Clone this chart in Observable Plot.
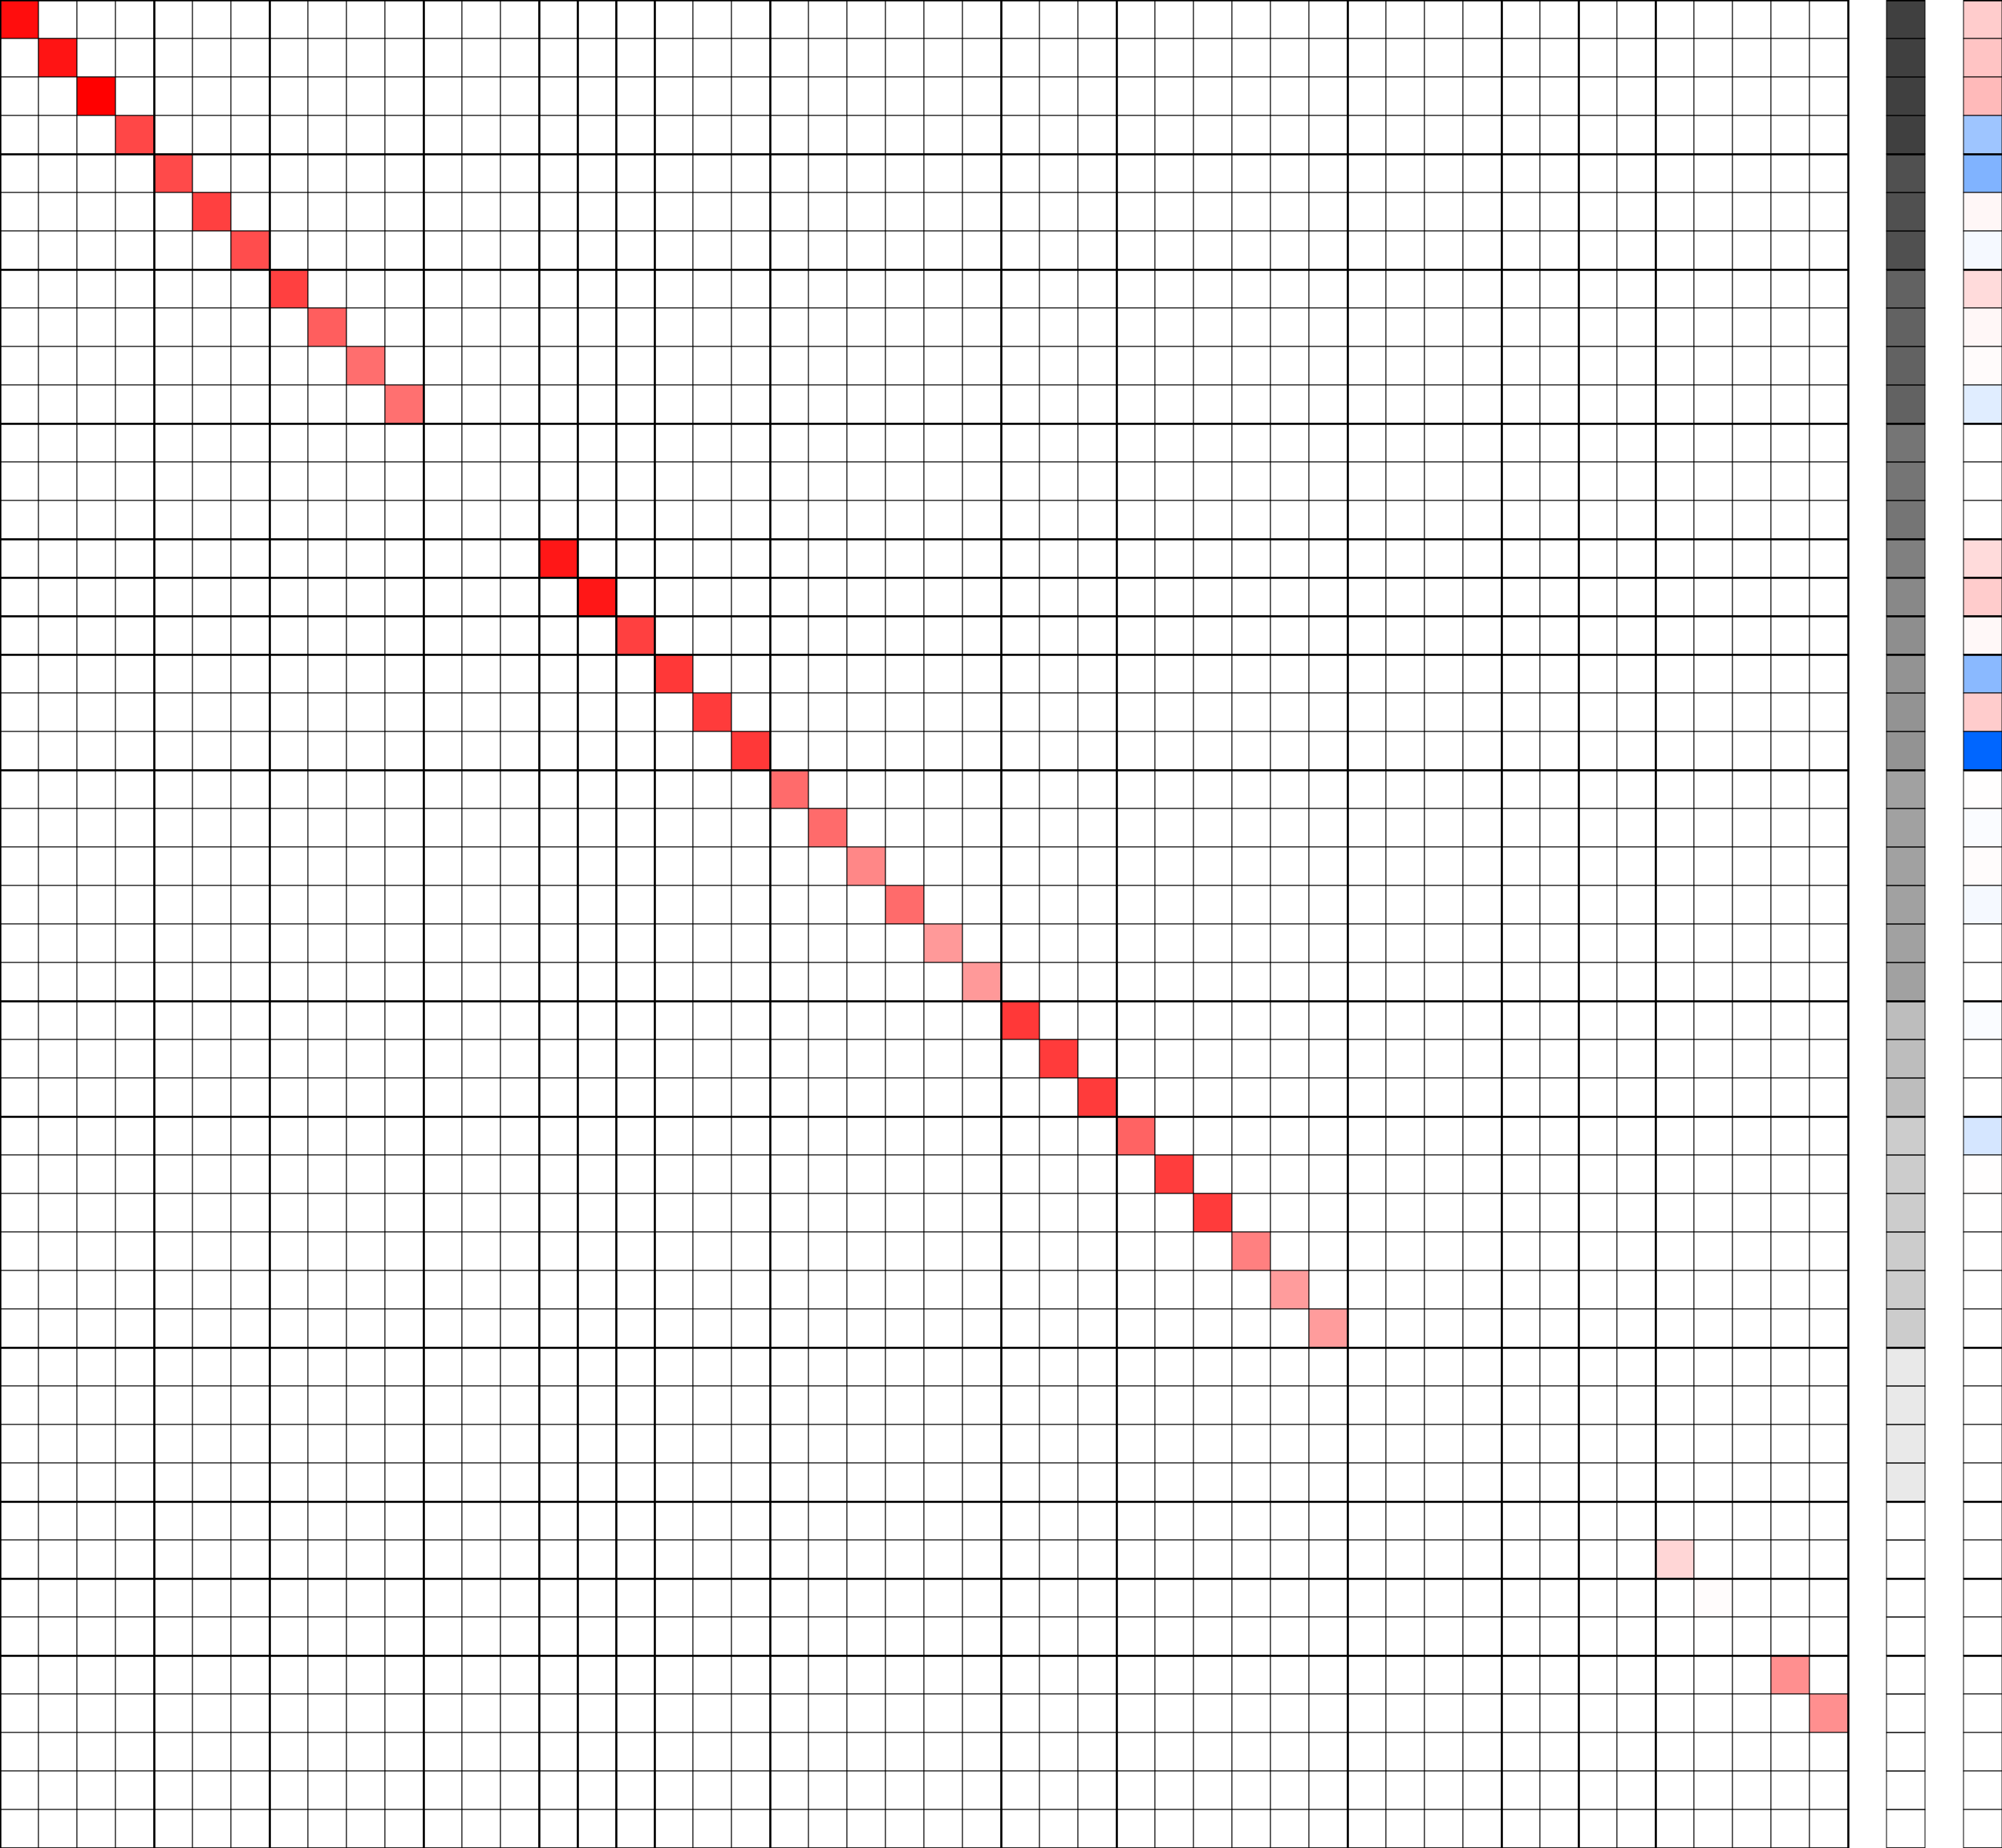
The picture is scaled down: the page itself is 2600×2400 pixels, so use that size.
<!DOCTYPE html>
<html>
<head>
<meta charset="utf-8">
<script src="https://cdn.jsdelivr.net/npm/d3@7"></script>
<script src="https://cdn.jsdelivr.net/npm/@observablehq/plot@0.6"></script>
<style>
  html, body { margin: 0; padding: 0; background: #ffffff; }
  #chart svg { display: block; }
</style>
</head>
<body>
<div id="chart"></div>
<script>
// ---- data ----
const n = 48;
// row/column groups (sizes, in order)
const groupSizes = [4, 3, 4, 3, 1, 1, 1, 3, 6, 3, 6, 4, 2, 2, 5];
// group shade (0 = white, 1 = black)
const groupShade = [0.75, 0.686, 0.616, 0.541, 0.498, 0.467, 0.443, 0.424, 0.369, 0.259, 0.2, 0.086, 0, 0, 0];
// non-zero matrix entries
const hitRows =   [0, 1, 2, 3, 4, 5, 6, 7, 8, 9, 10, 14, 15, 16, 17, 18, 19, 20, 21, 22, 23, 24, 25, 26, 27, 28, 29, 30, 31, 32, 33, 34, 40, 41, 43, 44];
const hitCols =   [0, 1, 2, 3, 4, 5, 6, 7, 8, 9, 10, 14, 15, 16, 17, 18, 19, 20, 21, 22, 23, 24, 25, 26, 27, 28, 29, 30, 31, 32, 33, 34, 43, 44, 46, 47];
const hitValues = [0.95, 0.92, 1.0, 0.72, 0.71, 0.75, 0.70, 0.75, 0.63, 0.57, 0.56, 0.91, 0.91, 0.75, 0.78, 0.77, 0.78, 0.58, 0.58, 0.47, 0.58, 0.40, 0.40, 0.78, 0.77, 0.77, 0.61, 0.76, 0.77, 0.50, 0.39, 0.39, 0.16, 0.01, 0.44, 0.44];
// side column (diverging values per row)
const sideValues = [0.20, 0.23, 0.27, -0.38, -0.50, 0.03, -0.04, 0.14, 0.03, 0.015, -0.12, 0, 0, 0, 0.14, 0.20,
                    0.027, -0.46, 0.20, -1.0, 0.005, -0.02, 0.01, -0.04, 0, 0, -0.02, 0, 0, -0.165, 0.005, 0,
                    0, 0, 0, 0, 0, 0, 0, 0, 0, 0, 0, 0, 0, 0, 0, 0];

// ---- build tables ----
const cells = [];
for (let r = 0; r < n; r++) for (let c = 0; c < n; c++) cells.push({r, c, v: 0});
hitRows.forEach((r, i) => { cells[r * n + hitCols[i]].v = hitValues[i]; });

const rowGroup = [];
groupSizes.forEach((s, g) => { for (let k = 0; k < s; k++) rowGroup.push(g); });
const grayCol = rowGroup.map((g, r) => ({r, g: groupShade[g]}));
const sideCol = sideValues.map((v, r) => ({r, v}));

const bounds = [0];
groupSizes.forEach(s => bounds.push(bounds[bounds.length - 1] + s));

const grayX = n + 1;   // column index of group column
const sideX = n + 3;   // column index of value column
const totalCols = n + 4;

const thin = 1, thick = 2.6;

const chart = Plot.plot({
  width: 2600,
  height: 2400,
  margin: 0,
  x: {domain: [0, totalCols], axis: null},
  y: {domain: [0, n], reverse: true, axis: null},
  color: {type: "linear", domain: [-1, 0, 1], range: ["#0066ff", "#ffffff", "#ff0000"], interpolate: "rgb"},
  opacity: {domain: [0, 1], range: [0, 1]},
  marks: [
    Plot.rect(cells, {x1: "c", x2: d => d.c + 1, y1: "r", y2: d => d.r + 1, fill: "v", stroke: "black", strokeWidth: thin}),
    Plot.rect(grayCol, {x1: () => grayX, x2: () => grayX + 1, y1: "r", y2: d => d.r + 1, fill: "black", fillOpacity: "g", stroke: "black", strokeWidth: thin}),
    Plot.rect(sideCol, {x1: () => sideX, x2: () => sideX + 1, y1: "r", y2: d => d.r + 1, fill: "v", stroke: "black", strokeWidth: thin}),
    Plot.ruleX(bounds, {y1: 0, y2: n, stroke: "black", strokeWidth: thick}),
    Plot.ruleY(bounds, {x1: 0, x2: n, stroke: "black", strokeWidth: thick}),
    Plot.ruleY(bounds, {x1: grayX, x2: grayX + 1, stroke: "black", strokeWidth: thick}),
    Plot.ruleY(bounds, {x1: sideX, x2: sideX + 1, stroke: "black", strokeWidth: thick})
  ]
});
document.getElementById("chart").appendChild(chart);
</script>
</body>
</html>
